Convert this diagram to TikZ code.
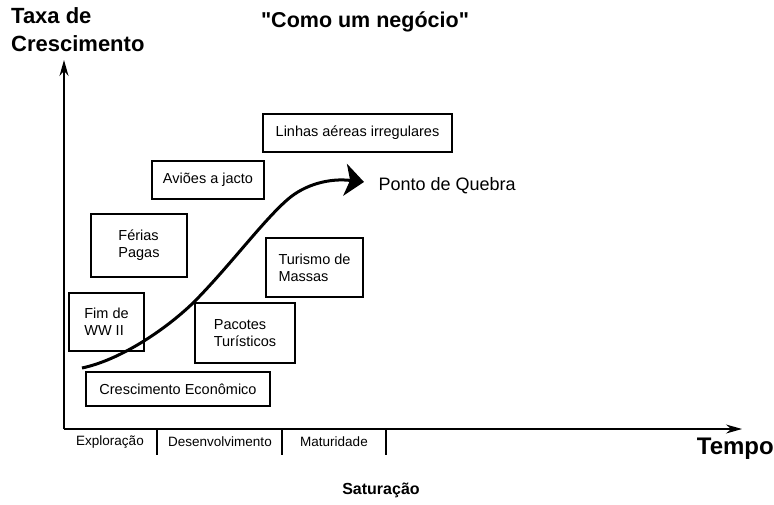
\documentclass[tikz,border=0pt]{standalone}
\usepackage{fontspec}
\setmainfont{Liberation Sans}
\usetikzlibrary{positioning,arrows.meta}
\begin{document}
\begin{tikzpicture}[x=1pt,y=-1pt,
  etapa/.style={draw,line width=1.4pt,inner sep=4pt,font=\fontsize{14.5}{17}\selectfont},
  fase/.style={font=\fontsize{13.5}{16}\selectfont}]
  \useasboundingbox (0,0) rectangle (774,504);
  \node[anchor=north west,align=left,font=\bfseries\fontsize{22}{28}\selectfont,inner sep=0pt] (taxa) at (11,7){Taxa de\\Crescimento};
  \node[font=\bfseries\fontsize{21.5}{24}\selectfont] (titulo) at (365,22){\textquotedbl Como um negócio\textquotedbl};
  % eixos
  \coordinate (o) at (64,429); \coordinate (ytop) at (64,60); \coordinate (xend) at (742,429);
  \draw[line width=1.4pt,-{Stealth[length=16pt,width=9pt]}](o)--(ytop);
  \draw[line width=1.2pt,-{Stealth[length=16pt,width=9pt]}](o)--(xend);
  \node[anchor=east,font=\bfseries\fontsize{24}{28}\selectfont,inner sep=0pt] (tempo) at (774,449){Tempo};
  \node[font=\bfseries\fontsize{16}{19}\selectfont] (sat) at (381,490){Saturação};
  % fases
  \foreach \xx in {157,282,386}{\draw[line width=1.2pt](\xx,429)--(\xx,455);}
  \node[fase] (expl) at (110,442){Exploração};
  \node[fase] (desenv) at (220,442){Desenvolvimento};
  \node[fase] (mat) at (334,442){Maturidade};
  % caixas
  \node[etapa,minimum width=189pt,minimum height=38pt] (linhas) at (357.5,133){Linhas aéreas irregulares};
  \node[etapa,minimum width=112pt,minimum height=38pt] (avioes) at (208,180){Aviões a jacto};
  \node[etapa,minimum width=96pt,minimum height=63pt,align=left] (ferias) at (139,245.5){Férias\\Pagas};
  \node[etapa,minimum width=97pt,minimum height=59pt,align=left] (massas) at (314.5,267.5){Turismo de\\Massas};
  \node[etapa,minimum width=75pt,minimum height=58pt,align=left] (fim) at (106.5,322){Fim de\\WW II};
  \node[etapa,minimum width=100pt,minimum height=60pt,align=left] (pacotes) at (245,333){Pacotes\\Turísticos};
  \node[etapa,minimum width=184pt,minimum height=34pt] (cresc) at (178,389){Crescimento Econômico};
  % curva
  \coordinate (ini) at (82,368); \coordinate (quebra) at (364,182);
  \draw[line width=3pt,-{Stealth[length=19pt,width=32pt,inset=5pt]}](ini)
    .. controls (120,360) and (165,330) .. (193,303)
    .. controls (228,268) and (262,222) .. (287,200)
    .. controls (305,184) and (330,178) .. (quebra);
  \node[anchor=west,font=\fontsize{18}{21}\selectfont] (ponto) at (375,186){Ponto de Quebra};
\end{tikzpicture}
\end{document}
